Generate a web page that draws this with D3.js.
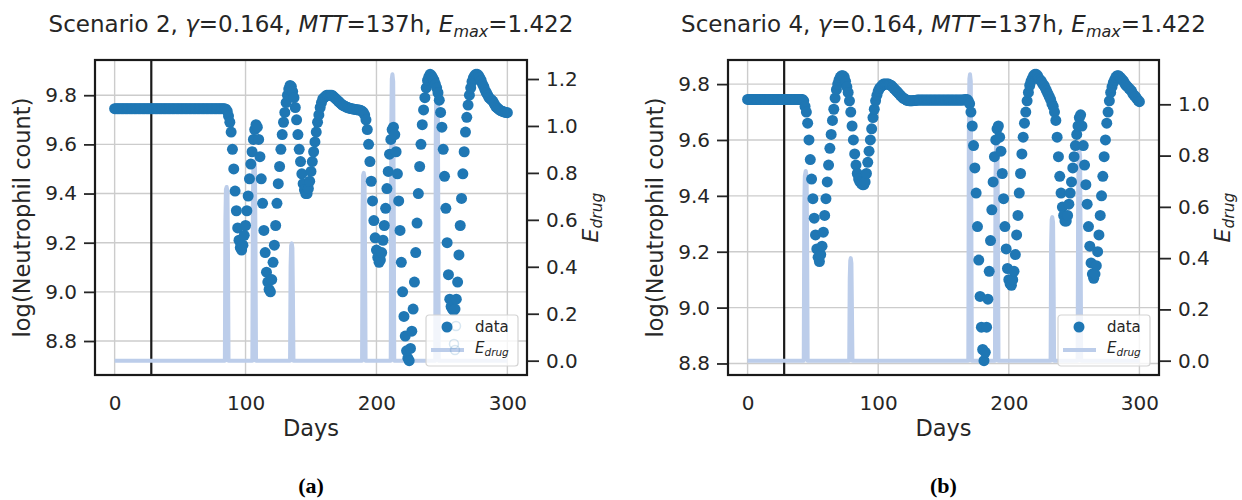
<!DOCTYPE html>
<html>
<head>
<meta charset="utf-8">
<script src="https://cdn.jsdelivr.net/npm/d3@7"></script>
<style>
body { margin: 0; background: #fff; }
svg { display: block; font-family: "DejaVu Sans", sans-serif; }
</style>
</head>
<body>
<svg width="1242" height="500"></svg>
<script>
/* globals d3 */

const xTicks = [0, 100, 200, 300];
const neutroTicks = [8.8, 9.0, 9.2, 9.4, 9.6, 9.8];
const drugTicksA = [0.0, 0.2, 0.4, 0.6, 0.8, 1.0, 1.2];
const drugTicksB = [0.0, 0.2, 0.4, 0.6, 0.8, 1.0];
const startDay = 28;

// log neutrophil count, one value per day (day 0 .. 300)
const neutroA = [
    9.745, 9.745, 9.745, 9.745, 9.745, 9.745, 9.745, 9.745, 9.745, 9.745,
    9.745, 9.745, 9.745, 9.745, 9.745, 9.745, 9.745, 9.745, 9.745, 9.745,
    9.745, 9.745, 9.745, 9.745, 9.745, 9.745, 9.745, 9.745, 9.745, 9.745,
    9.745, 9.745, 9.745, 9.745, 9.745, 9.745, 9.745, 9.745, 9.745, 9.745,
    9.745, 9.745, 9.745, 9.745, 9.745, 9.745, 9.745, 9.745, 9.745, 9.745,
    9.745, 9.745, 9.745, 9.745, 9.745, 9.745, 9.745, 9.745, 9.745, 9.745,
    9.745, 9.745, 9.745, 9.745, 9.745, 9.745, 9.745, 9.745, 9.745, 9.745,
    9.745, 9.745, 9.745, 9.745, 9.745, 9.745, 9.745, 9.745, 9.745, 9.745,
    9.745, 9.745, 9.745, 9.745, 9.745, 9.743, 9.735, 9.715, 9.69, 9.65,
    9.58, 9.50, 9.41, 9.33, 9.26, 9.21, 9.18, 9.17, 9.19, 9.23,
    9.27, 9.33, 9.39, 9.46, 9.52, 9.57, 9.62, 9.66, 9.68, 9.67,
    9.62, 9.55, 9.46, 9.36, 9.25, 9.16, 9.08, 9.04, 9.01, 9.00,
    9.05, 9.12, 9.19, 9.27, 9.36, 9.44, 9.51, 9.58, 9.64, 9.69,
    9.73, 9.77, 9.80, 9.825, 9.84, 9.835, 9.815, 9.79, 9.75, 9.70,
    9.64, 9.58, 9.53, 9.48, 9.44, 9.415, 9.40, 9.40, 9.42, 9.45,
    9.49, 9.53, 9.57, 9.61, 9.65, 9.69, 9.72, 9.75, 9.77, 9.785,
    9.79, 9.795, 9.80, 9.80, 9.80, 9.80, 9.80, 9.795, 9.79, 9.785,
    9.78, 9.775, 9.77, 9.765, 9.76, 9.758, 9.755, 9.752, 9.75, 9.748,
    9.746, 9.745, 9.744, 9.743, 9.742, 9.741, 9.74, 9.74, 9.738, 9.735,
    9.73, 9.72, 9.70, 9.66, 9.60, 9.53, 9.45, 9.37, 9.29, 9.22,
    9.17, 9.14, 9.12, 9.13, 9.16, 9.21, 9.27, 9.34, 9.42, 9.49,
    9.56, 9.62, 9.66, 9.67, 9.64, 9.57, 9.48, 9.37, 9.25, 9.12,
    9.00, 8.90, 8.82, 8.76, 8.73, 8.72, 8.77, 8.84, 8.93, 9.04,
    9.16, 9.28, 9.40, 9.51, 9.60, 9.68, 9.74, 9.79, 9.83, 9.86,
    9.875, 9.885, 9.88, 9.87, 9.86, 9.845, 9.83, 9.81, 9.78, 9.73,
    9.67, 9.58, 9.47, 9.34, 9.20, 9.07, 8.97, 8.94, 8.93, 8.925,
    8.93, 8.97, 9.04, 9.15, 9.27, 9.38, 9.48, 9.57, 9.65, 9.71,
    9.76, 9.80, 9.83, 9.855, 9.87, 9.88, 9.885, 9.885, 9.88, 9.87,
    9.86, 9.845, 9.835, 9.82, 9.81, 9.80, 9.79, 9.785, 9.78, 9.775,
    9.765, 9.755, 9.75, 9.745, 9.74, 9.737, 9.735, 9.733, 9.731, 9.73,
    9.729
];

const neutroB = [
    9.745, 9.745, 9.745, 9.745, 9.745, 9.745, 9.745, 9.745, 9.745, 9.745,
    9.745, 9.745, 9.745, 9.745, 9.745, 9.745, 9.745, 9.745, 9.745, 9.745,
    9.745, 9.745, 9.745, 9.745, 9.745, 9.745, 9.745, 9.745, 9.745, 9.745,
    9.745, 9.745, 9.745, 9.745, 9.745, 9.745, 9.745, 9.745, 9.745, 9.745,
    9.745, 9.745, 9.745, 9.74, 9.72, 9.70, 9.66, 9.60, 9.53, 9.46,
    9.39, 9.32, 9.26, 9.21, 9.18, 9.165, 9.19, 9.22, 9.27, 9.33,
    9.39, 9.45, 9.51, 9.57, 9.62, 9.67, 9.71, 9.75, 9.78, 9.80,
    9.815, 9.825, 9.83, 9.83, 9.825, 9.81, 9.79, 9.77, 9.74, 9.70,
    9.65, 9.60, 9.55, 9.51, 9.48, 9.46, 9.45, 9.445, 9.44, 9.44,
    9.45, 9.48, 9.52, 9.56, 9.60, 9.64, 9.68, 9.71, 9.74, 9.76,
    9.775, 9.785, 9.79, 9.795, 9.80, 9.80, 9.80, 9.80, 9.80, 9.797,
    9.795, 9.79, 9.785, 9.78, 9.775, 9.77, 9.765, 9.76, 9.755, 9.75,
    9.748, 9.745, 9.742, 9.741, 9.74, 9.74, 9.74, 9.741, 9.741, 9.742,
    9.743, 9.743, 9.743, 9.743, 9.743, 9.743, 9.743, 9.743, 9.743, 9.743,
    9.743, 9.743, 9.743, 9.743, 9.743, 9.743, 9.743, 9.743, 9.743, 9.743,
    9.743, 9.743, 9.743, 9.743, 9.743, 9.743, 9.743, 9.743, 9.743, 9.743,
    9.743, 9.743, 9.743, 9.743, 9.743, 9.743, 9.744, 9.745, 9.745, 9.74,
    9.73, 9.70, 9.65, 9.58, 9.50, 9.41, 9.29, 9.17, 9.04, 8.93,
    8.85, 8.81, 8.84, 8.93, 9.03, 9.13, 9.24, 9.35, 9.45, 9.54,
    9.60, 9.64, 9.65, 9.61, 9.56, 9.48, 9.39, 9.29, 9.21, 9.14,
    9.10, 9.085, 9.08, 9.10, 9.13, 9.19, 9.26, 9.33, 9.41, 9.48,
    9.55, 9.61, 9.66, 9.70, 9.74, 9.77, 9.795, 9.81, 9.82, 9.83,
    9.835, 9.835, 9.83, 9.82, 9.815, 9.81, 9.80, 9.795, 9.785, 9.775,
    9.765, 9.755, 9.745, 9.73, 9.72, 9.70, 9.67, 9.61, 9.54, 9.47,
    9.41, 9.36, 9.33, 9.31, 9.31, 9.33, 9.37, 9.41, 9.45, 9.50,
    9.54, 9.58, 9.62, 9.65, 9.68, 9.69, 9.65, 9.58, 9.51, 9.44,
    9.37, 9.29, 9.22, 9.16, 9.12, 9.105, 9.12, 9.15, 9.20, 9.26,
    9.33, 9.40, 9.47, 9.54, 9.60, 9.66, 9.70, 9.74, 9.77, 9.79,
    9.805, 9.815, 9.825, 9.83, 9.83, 9.825, 9.82, 9.815, 9.81, 9.80,
    9.795, 9.79, 9.785, 9.78, 9.775, 9.765, 9.76, 9.755, 9.748, 9.742,
    9.737
];

// E_drug as [day, value]
const drugA = [
    [0, 0],
    [84.2, 0], [84.6, 0.60], [85.0, 0.73], [85.6, 0.74], [86.2, 0.72], [86.6, 0.45], [87.0, 0],
    [105.2, 0], [105.6, 0.68], [106.0, 0.84], [106.6, 0.85], [107.2, 0.83], [107.6, 0.50], [108.0, 0],
    [134.0, 0], [134.4, 0.40], [134.8, 0.49], [135.3, 0.50], [135.8, 0.48], [136.2, 0.28], [136.6, 0],
    [189.0, 0], [189.4, 0.64], [189.8, 0.79], [190.3, 0.80], [190.9, 0.78], [191.3, 0.45], [191.7, 0],
    [210.9, 0], [211.3, 0.98], [211.7, 1.20], [212.2, 1.22], [212.8, 1.19], [213.2, 0.70], [213.6, 0],
    [244.9, 0], [245.3, 0.96], [245.7, 1.18], [246.2, 1.20], [246.8, 1.17], [247.2, 0.70], [247.6, 0],
    [300, 0]
];

const drugB = [
    [0, 0],
    [43.0, 0], [43.4, 0.60], [43.8, 0.72], [44.5, 0.74], [45.2, 0.72], [45.6, 0.45], [46.0, 0],
    [77.8, 0], [78.2, 0.32], [78.6, 0.39], [79.0, 0.40], [79.5, 0.38], [79.9, 0.20], [80.3, 0],
    [169.0, 0], [169.4, 0.90], [169.8, 1.10], [170.3, 1.117], [170.9, 1.09], [171.3, 0.60], [171.7, 0],
    [189.4, 0], [189.8, 0.70], [190.2, 0.84], [190.7, 0.86], [191.3, 0.84], [191.7, 0.50], [192.1, 0],
    [232.0, 0], [232.4, 0.45], [232.8, 0.55], [233.3, 0.56], [233.9, 0.54], [234.3, 0.30], [234.7, 0],
    [252.7, 0], [253.1, 0.66], [253.5, 0.80], [254.0, 0.82], [254.6, 0.80], [255.0, 0.45], [255.4, 0],
    [300, 0]
];

const panels = [
    {scenario: '2', neutro: neutroA, drug: drugA, drugTicks: drugTicksA, letter: '(a)', left: 95, right: 527, ghost: true},
    {scenario: '4', neutro: neutroB, drug: drugB, drugTicks: drugTicksB, letter: '(b)', left: 728, right: 1159, ghost: false}
];

const TOP = 60;
const BOTTOM = 375;
const INK = '#262626';
const DOT = '#1f77b4';
const DRUG = '#bccdea';
const GRID = '#cccccc';

const svg = d3.select('svg');

// matplotlib-like 5% margins
function padded(values) {
    const [lo, hi] = d3.extent(values);
    const m = (hi - lo) * 0.05;
    return [lo - m, hi + m];
}

panels.forEach(p => {
    const g = svg.append('g');
    const cx = (p.left + p.right) / 2;

    const x = d3.scaleLinear().domain(padded([0, 300])).range([p.left, p.right]);
    const y = d3.scaleLinear().domain(padded(p.neutro)).range([BOTTOM, TOP]);
    const y2 = d3.scaleLinear().domain(padded(p.drug.map(d => d[1]))).range([BOTTOM, TOP]);

    // grid
    g.append('g')
    .selectAll('line')
    .data(xTicks)
    .enter().append('line')
    .attr('x1', d => x(d)).attr('x2', d => x(d))
    .attr('y1', TOP).attr('y2', BOTTOM)
    .attr('stroke', GRID).attr('stroke-width', 1.4);

    g.append('g')
    .selectAll('line')
    .data(neutroTicks)
    .enter().append('line')
    .attr('x1', p.left).attr('x2', p.right)
    .attr('y1', d => y(d)).attr('y2', d => y(d))
    .attr('stroke', GRID).attr('stroke-width', 1.4);

    // treatment start
    g.append('line')
    .attr('x1', x(startDay)).attr('x2', x(startDay))
    .attr('y1', TOP).attr('y2', BOTTOM)
    .attr('stroke', '#1a1a1a').attr('stroke-width', 2.2);

    // E_drug
    g.append('path')
    .datum(p.drug)
    .attr('fill', 'none')
    .attr('stroke', DRUG)
    .attr('stroke-width', 4)
    .attr('stroke-linejoin', 'round')
    .attr('d', d3.line().x(d => x(d[0])).y(d => y2(d[1])));

    // data points
    g.append('g')
    .selectAll('circle')
    .data(p.neutro)
    .enter().append('circle')
    .attr('cx', (d, i) => x(i))
    .attr('cy', d => y(d))
    .attr('r', 5.5)
    .attr('fill', DOT);

    // axes
    const axL = g.append('g')
    .attr('transform', `translate(${p.left},0)`)
    .call(d3.axisLeft(y).tickValues(neutroTicks).tickFormat(d3.format('.1f')).tickSize(11).tickPadding(7));

    const axR = g.append('g')
    .attr('transform', `translate(${p.right},0)`)
    .call(d3.axisRight(y2).tickValues(p.drugTicks).tickFormat(d3.format('.1f')).tickSize(12).tickPadding(7));

    const axB = g.append('g')
    .attr('transform', `translate(0,${BOTTOM})`)
    .call(d3.axisBottom(x).tickValues(xTicks).tickSize(0).tickPadding(21));

    [axL, axR, axB].forEach(a => {
        a.select('.domain').remove();
        a.selectAll('line').attr('stroke', INK).attr('stroke-width', 1.8);
        a.selectAll('text')
        .attr('fill', INK)
        .style('font-size', '20px')
        .style('font-family', '"DejaVu Sans", sans-serif');
    });

    // frame
    g.append('rect')
    .attr('x', p.left).attr('y', TOP)
    .attr('width', p.right - p.left).attr('height', BOTTOM - TOP)
    .attr('fill', 'none')
    .attr('stroke', '#1a1a1a')
    .attr('stroke-width', 2.2);

    // title
    const title = g.append('text')
    .attr('x', cx).attr('y', 32)
    .attr('text-anchor', 'middle')
    .attr('fill', INK)
    .style('font-size', '23px');
    title.append('tspan').text(`Scenario ${p.scenario}, `);
    title.append('tspan').attr('font-style', 'italic').text('γ');
    title.append('tspan').text('=0.164, ');
    title.append('tspan').attr('font-style', 'italic').text('MTT');
    title.append('tspan').text('=137h, ');
    title.append('tspan').attr('font-style', 'italic').text('E');
    title.append('tspan').attr('font-style', 'italic').attr('dy', 5).style('font-size', '16px').text('max');
    title.append('tspan').attr('dy', -5).text('=1.422');

    // axis labels
    g.append('text')
    .attr('transform', `translate(${p.left - 65},${(TOP + BOTTOM) / 2}) rotate(-90)`)
    .attr('text-anchor', 'middle')
    .attr('fill', INK)
    .style('font-size', '22.5px')
    .text('log(Neutrophil count)');

    const eLabel = g.append('text')
    .attr('transform', `translate(${p.right + 71},${(TOP + BOTTOM) / 2}) rotate(-90)`)
    .attr('text-anchor', 'middle')
    .attr('fill', INK)
    .attr('font-style', 'italic')
    .style('font-size', '22px');
    eLabel.append('tspan').text('E');
    eLabel.append('tspan').attr('dy', 4).style('font-size', '15.5px').text('drug');

    g.append('text')
    .attr('x', cx).attr('y', 436)
    .attr('text-anchor', 'middle')
    .attr('fill', INK)
    .style('font-size', '22.5px')
    .text('Days');

    g.append('text')
    .attr('x', cx).attr('y', 493)
    .attr('text-anchor', 'middle')
    .attr('fill', '#000')
    .style('font-family', '"Liberation Serif", serif')
    .style('font-weight', 'bold')
    .style('font-size', '22px')
    .text(p.letter);

    // legend
    const lx = p.right - 101;
    const ly = 315;
    const lg = g.append('g').attr('transform', `translate(${lx},${ly})`);
    lg.append('rect')
    .attr('width', 92).attr('height', 51).attr('rx', 3)
    .attr('fill', '#fff').attr('fill-opacity', 0.8)
    .attr('stroke', '#d4d4d4').attr('stroke-width', 1.2);
    lg.append('line')
    .attr('x1', 5).attr('x2', 38).attr('y1', 35).attr('y2', 35)
    .attr('stroke', DRUG).attr('stroke-width', 4);
    lg.append('circle')
    .attr('cx', 21).attr('cy', 12).attr('r', 5.5)
    .attr('fill', DOT);
    if (p.ghost) {
        [[30, 11], [28, 29], [29, 35]].forEach(c => {
            lg.append('circle')
            .attr('cx', c[0]).attr('cy', c[1]).attr('r', 4.5)
            .attr('fill', 'none')
            .attr('stroke', DOT).attr('stroke-opacity', 0.18).attr('stroke-width', 1.5);
        });
    }
    lg.append('text')
    .attr('x', 49).attr('y', 17)
    .attr('fill', INK)
    .style('font-size', '15px')
    .text('data');
    const le = lg.append('text')
    .attr('x', 49).attr('y', 38)
    .attr('fill', INK)
    .attr('font-style', 'italic')
    .style('font-size', '15px');
    le.append('tspan').text('E');
    le.append('tspan').attr('dy', 3).style('font-size', '10.5px').text('drug');
});
</script>
</body>
</html>
